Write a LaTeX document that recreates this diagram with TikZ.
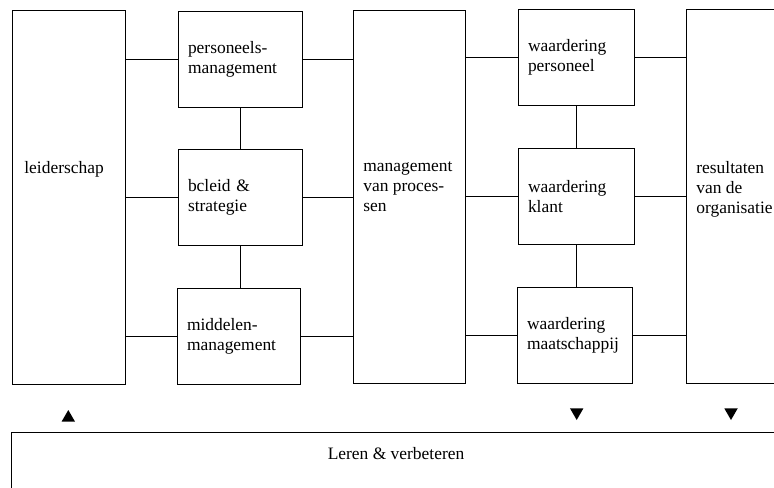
\documentclass[tikz,border=0pt]{standalone}
\usepackage{fontspec}
\setmainfont{Liberation Serif}
\usetikzlibrary{positioning,shapes.geometric}

\tikzset{
  blok/.style={draw, rectangle, inner sep=0pt},
  vak/.style={draw, rectangle, inner xsep=10bp, inner ysep=0pt, align=left, minimum height=96bp},
  tekst/.style={anchor=north west, align=left, inner sep=0pt},
  pijl/.style={regular polygon, regular polygon sides=3, fill, draw=none, inner sep=0pt, minimum size=15.6bp},
}

\begin{document}
\begin{tikzpicture}[x=1bp, y=-1bp, line width=0.8bp, font=\fontsize{17.5}{20}\selectfont]
      %\draw [dotted] (0,0) grid[step=50] (774,488);
      \useasboundingbox (0,0) rectangle (774,488);
      \clip (0,0) rectangle (774,488);
      \node [blok, minimum width=113bp, minimum height=374bp] (leid) at ( 68.5, 197.0) {};
      \node [blok, minimum width=112bp, minimum height=373bp] (mgmt) at (409.0, 196.5) {};
      \node [blok, minimum width=114bp, minimum height=374bp]  (res) at (743.0, 196.0) {};
      \node [blok, minimum width=789bp, minimum height=88bp] (leren) at (405.5, 476.0) {};
      \node [tekst]   (leid-t) at ( 24.0, 161.0) {leiderschap};
      \node [tekst]   (mgmt-t) at (363.0, 161.0) {management\\van proces-\\sen};
      \node [tekst]    (res-t) at (696.0, 161.0) {resultaten\\van de\\organisatie};
      \node          (leren-t) at (396.0, 454.0) {Leren \& verbeteren};
      \node [vak, text width=104bp] (pers) at (240.0,  59.0) {personeels-\\management};
      \node [vak, text width=104bp]  (bel) at (240.0, 197.0) {bcleid \&\\strategie};
      \node [vak, text width=103bp]  (mid) at (238.5, 336.0) {middelen-\\management};
      \node [vak, text width=96bp]    (wp) at (576.0,  57.5) {waardering\\personeel};
      \node [vak, text width=96bp]    (wk) at (576.0, 196.5) {waardering\\klant};
      \node [vak, text width=95bp]    (wm) at (574.5, 335.0) {waardering\\maatschappij};
      \node [pijl]                    (op) at ( 68.3, 417.8) {};
      \node [pijl, shape border rotate=180] (neer1) at (576.7, 412.2) {};
      \node [pijl, shape border rotate=180] (neer2) at (731.0, 412.2) {};
      \draw (leid.east |- pers.west) -- (pers.west);
      \draw (leid.east |- bel.west) -- (bel.west);
      \draw (leid.east |- mid.west) -- (mid.west);
      \draw (pers.east) -- (pers.east -| mgmt.west);
      \draw (bel.east) -- (bel.east -| mgmt.west);
      \draw (mid.east) -- (mid.east -| mgmt.west);
      \draw (mgmt.east |- wp.west) -- (wp.west);
      \draw (mgmt.east |- wk.west) -- (wk.west);
      \draw (mgmt.east |- wm.west) -- (wm.west);
      \draw (wp.east) -- (wp.east -| res.west);
      \draw (wk.east) -- (wk.east -| res.west);
      \draw (wm.east) -- (wm.east -| res.west);
      \draw (pers.south) -- (bel.north);
      \draw (bel.south) -- (bel.south |- mid.north);
      \draw (wp.south) -- (wk.north);
      \draw (wk.south) -- (wk.south |- wm.north);
\end{tikzpicture}
\end{document}
